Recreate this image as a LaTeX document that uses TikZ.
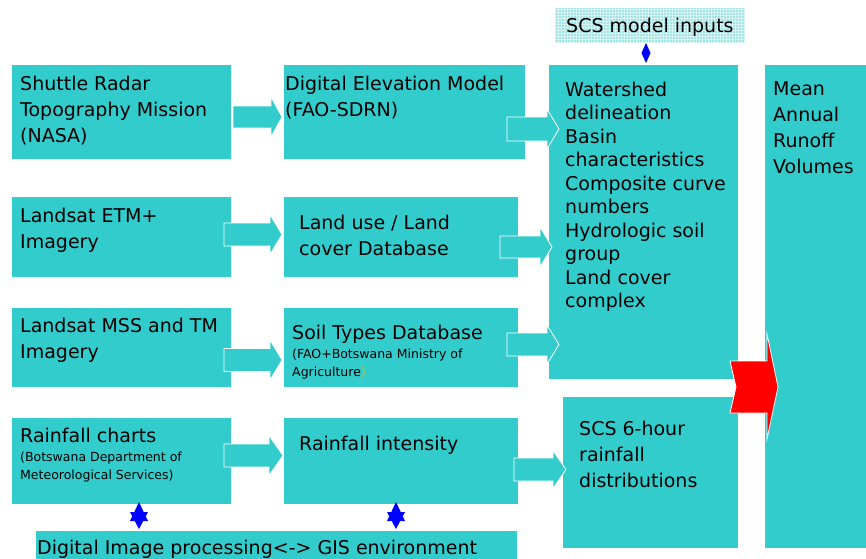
\documentclass[tikz,border=0pt]{standalone}
\usepackage{fontspec}
\setmainfont{DejaVu Sans}
\definecolor{cyanbox}{RGB}{51,204,204}
\definecolor{hatchbg}{RGB}{165,226,226}
\definecolor{hatchline}{RGB}{215,244,244}
\definecolor{parenyellow}{RGB}{220,190,0}
\newcommand\blockarrow[7]{\filldraw[#7] (#1,#4-#5) -- (#2,#4-#5) -- (#2,#4-#6) -- (#3,#4) -- (#2,#4+#6) -- (#2,#4+#5) -- (#1,#4+#5) -- cycle;}
\newcommand\sixstar[1]{%
  \fill[starblue] (#1,502) -- (#1+9,521) -- (#1-9,521) -- cycle;
  \fill[starblue] (#1,529) -- (#1+9,512) -- (#1-9,512) -- cycle;}
\tikzset{
  box/.style={fill=cyanbox, inner sep=0pt, outer sep=0pt, anchor=north west},
  txt/.style={inner sep=0pt, anchor=north west, align=left, font=\fontsize{19}{26}\selectfont},
  listtxt/.style={inner sep=0pt, anchor=north west, align=left, font=\fontsize{19}{23.5}\selectfont},
  smalltxt/.style={inner sep=0pt, anchor=north west, align=left, font=\fontsize{12.5}{17.5}\selectfont},
  barrow/.style={fill=cyanbox, draw=white, line width=0.8pt},
  redarrow/.style={fill=red, draw=white, line width=0.8pt},
  starblue/.style={blue}
}
\begin{document}
\begin{tikzpicture}[x=1pt,y=-1pt]
\useasboundingbox (0,0) rectangle (866,558);
\fill[white] (0,0) rectangle (866,558);
% boxes
\node[box, minimum width=219pt, minimum height=94pt] (srtm) at (12,65) {};
\node[box, minimum width=241pt, minimum height=94pt] (dem) at (284,65) {};
\node[box, minimum width=219pt, minimum height=80pt] (etm) at (12,197) {};
\node[box, minimum width=234pt, minimum height=80pt] (lu) at (284,197) {};
\node[box, minimum width=219pt, minimum height=79pt] (mss) at (12,308) {};
\node[box, minimum width=234pt, minimum height=79pt] (soil) at (284,308) {};
\node[box, minimum width=219pt, minimum height=86pt] (rain) at (12,418) {};
\node[box, minimum width=234pt, minimum height=86pt] (rint) at (284,418) {};
\node[box, minimum width=481pt, minimum height=40pt] (gis) at (36,531) {};
\node[box, minimum width=189pt, minimum height=314pt] (scsin) at (549,65) {};
\node[box, minimum width=175pt, minimum height=151pt] (scs6) at (563,397) {};
\node[box, minimum width=115pt, minimum height=483pt] (mean) at (765,65) {};
% hatched label box
\node[box, fill=hatchbg, minimum width=189pt, minimum height=35pt] (inputs) at (555,8) {};
\draw[hatchline, line width=0.3pt, step=3pt] (555,8) grid (744,43);
% texts
\node[txt] (tsrtm) at (20,75.5) {Shuttle Radar\\Topography Mission\\(NASA)};
\node[txt] (tdem) at (285,75.5) {Digital Elevation Model\\(FAO-SDRN)};
\node[listtxt] (tscsin) at (565,81.5) {Watershed\\delineation\\Basin\\characteristics\\Composite curve\\numbers\\Hydrologic soil\\group\\Land cover\\complex};
\node[txt] (tmean) at (773,81.5) {Mean\\Annual\\Runoff\\Volumes};
\node[txt] (tetm) at (20,207.5) {Landsat ETM+\\Imagery};
\node[txt] (tlu) at (299,214.5) {Land use / Land\\cover Database};
\node[txt] (tmss) at (20,317.5) {Landsat MSS and TM\\Imagery};
\node[txt] (tsoil) at (292,324.5) {Soil Types Database};
\node[smalltxt] (tsoilsub) at (292,349) {(FAO+Botswana Ministry of\\Agriculture\textcolor{parenyellow}{)}};
\node[txt] (train) at (20,427.5) {Rainfall charts};
\node[smalltxt] (trainsub) at (20,452) {(Botswana Department of\\Meteorological Services)};
\node[txt] (trint) at (299,435.5) {Rainfall intensity};
\node[txt] (tscs6) at (579,420.5) {SCS 6-hour\\rainfall\\distributions};
\node[txt] (tgis) at (37,539.5) {Digital Image processing<-> GIS environment};
\node[txt] (tinputs) at (566,17.5) {SCS model inputs};
% block arrows column 1 -> 2
\blockarrow{233}{271}{282}{117}{11}{20}{barrow}
\blockarrow{224}{270}{282}{234.5}{11.5}{20}{barrow}
\blockarrow{224}{270}{282}{360}{11.5}{20}{barrow}
\blockarrow{224}{269}{283}{455.5}{11.5}{20}{barrow}
% block arrows column 2 -> 3
\blockarrow{507}{547}{559}{129}{12}{20}{barrow}
\blockarrow{500}{540}{552}{247}{11}{20}{barrow}
\blockarrow{507}{547}{559}{344.5}{11.5}{19.5}{barrow}
\blockarrow{514}{553}{566}{469.5}{11.5}{19}{barrow}
% red arrow
\filldraw[redarrow] (730,361) -- (767,361) -- (767,334) -- (778,387) -- (767,439) -- (767,413) -- (730,413) -- (736,387) -- cycle;
% blue markers
\fill[starblue] (646,43) -- (650.5,53) -- (646,63) -- (641.5,53) -- cycle;
\sixstar{139}
\sixstar{396}
\end{tikzpicture}
\end{document}
